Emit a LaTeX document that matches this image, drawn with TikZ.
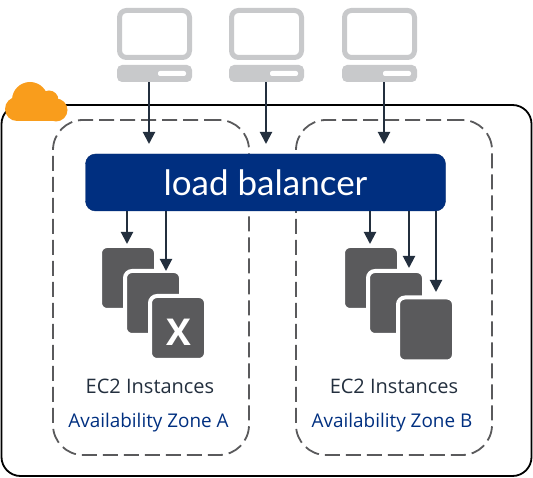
\documentclass[tikz,border=0pt]{standalone}
\usepackage{fontspec}
\setmainfont{Open Sans}
\newfontfamily\lbfont{Lato}
\usetikzlibrary{arrows.meta, positioning}
\definecolor{awsnavy}{HTML}{002F80}
\definecolor{awsink}{HTML}{232F3E}
\definecolor{awsorange}{HTML}{F99D1C}
\definecolor{pcgrey}{HTML}{C8C9CB}
\definecolor{boxgrey}{HTML}{5A5A5C}

\begin{document}
\begin{tikzpicture} [x=1pt, y=-1pt,
    region/.style={draw=black, line width=1.8pt, rounded corners=19pt, minimum width=530pt, minimum height=371pt, inner sep=0pt},
    zone/.style={draw=boxgrey, line width=1.8pt, dash pattern=on 15pt off 6pt, rounded corners=30pt, minimum width=196pt, minimum height=335pt, inner sep=0pt},
    balancer/.style={fill=awsnavy, draw=awsnavy!85!black, rounded corners=10pt, minimum width=360pt, minimum height=57pt, text=white, inner sep=0pt, font=\lbfont\fontsize{35}{35}\selectfont},
    monitor/.style={draw=pcgrey, line width=5pt, rounded corners=7pt, minimum width=70pt, minimum height=47pt, inner sep=0pt},
    pcbase/.style={fill=pcgrey, rounded corners=5pt, minimum width=75pt, minimum height=17pt, inner sep=0pt},
    pcslot/.style={fill=white, rounded corners=2pt, minimum width=28pt, minimum height=5pt, inner sep=0pt},
    instance/.style={fill=boxgrey, draw=white, line width=4pt, rounded corners=7pt, minimum width=56pt, minimum height=64pt, inner sep=0pt},
    caption/.style={text=awsink, inner sep=0pt, font=\fontsize{20}{20}\selectfont},
    zonename/.style={text=awsnavy, inner sep=0pt, font=\fontsize{18.9}{19}\selectfont},
    link/.style={draw=awsink, line width=2pt, -{Triangle[length=12pt, width=12pt]}}]
\useasboundingbox (0,0) rectangle (533,478);

\node (region) [region] at (266.5,290.5) {};
% cloud on the corner
\fill [awsorange] (30,100) circle (18pt) (49,100) circle (9.5pt) (56,110) circle (11.5pt) (17,109) circle (12pt) (17,107) rectangle (56,121);

\node (zonea) [zone] at (151,287.5) {};
\node (zoneb) [zone] at (394,287.5) {};

% client machines
\foreach \i/\x in {1/154.5, 2/266.5, 3/379.5} {
    \node (monitor\i) [monitor] at (\x,34) {};
    \node (base\i) [pcbase] at (\x,73.5) {};
    \node (slot\i) [pcslot, left = 6pt of base\i.east] {};
}

\node (lb) [balancer] at (265.5,182.5) {load balancer};

% instances
\node (a1) [instance] at (128,278) {};
\node (a2) [instance] at (153,303) {};
\node (a3) [instance] at (178,328) {};
\node (b1) [instance] at (371,278) {};
\node (b2) [instance] at (396,303) {};
\node (b3) [instance] at (426,329.5) {};
\node (crossed) [text=white, inner sep=0pt, font=\bfseries\fontsize{37}{37}\selectfont] at (179,332) {X};

\node (eca) [caption] at (150,386) {EC2 Instances};
\node (ecb) [caption] at (394,386) {EC2 Instances};
\node (aza) [zonename] at (148.5,423) {Availability Zone A};
\node (azb) [zonename] at (392,423) {Availability Zone B};

% arrow ends
\coordinate (ina) at (149,144);
\coordinate (inm) at (266,144);
\coordinate (inb) at (384,144);
\coordinate (outa) at (127,244);
\coordinate (outc) at (166,271);
\coordinate (outd) at (370,244);
\coordinate (oute) at (409,268);
\coordinate (outf) at (436,292);

\draw [link] (ina |- base1.south) -- (ina);
\draw [link] (inm |- base2.south) -- (inm);
\draw [link] (inb |- base3.south) -- (inb);
\draw [link] (outa |- lb.south) -- (outa);
\draw [link] (outc |- lb.south) -- (outc);
\draw [link] (outd |- lb.south) -- (outd);
\draw [link] (oute |- lb.south) -- (oute);
\draw [link] (outf |- lb.south) -- (outf);
\end{tikzpicture}
\end{document}
